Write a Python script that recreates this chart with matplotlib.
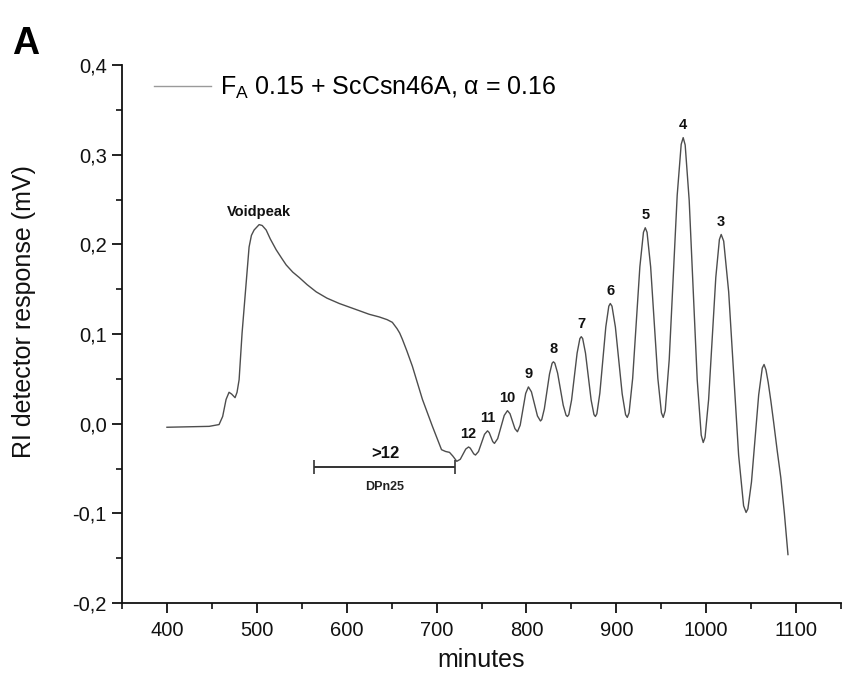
import numpy as np
import matplotlib
matplotlib.use("Agg")
import matplotlib.pyplot as plt
from matplotlib.ticker import MultipleLocator, FuncFormatter

plt.rcParams['font.family'] = ['Liberation Sans', 'DejaVu Sans']
plt.rcParams['mathtext.fontset'] = 'custom'
plt.rcParams['mathtext.rm'] = 'Liberation Sans'
plt.rcParams['mathtext.it'] = 'Liberation Sans:italic'

# ---- data ----
minutes = [
    400, 447, 458, 462, 465.8, 469.1, 472, 475.8, 478, 480.3, 483.6, 488.1,
    491.4, 494, 497, 502.6, 506, 510.4, 515, 521.5, 528, 532.7, 540, 547.2,
    556, 566.1, 578, 591.8, 603, 614, 625, 636.3, 645, 650.8, 653, 656, 659,
    662, 667, 673.1, 684.3, 695.4, 705.5, 710,
    714.4, 718, 722.5,
    726.4, 729.5, 732.5, 735.6, 737.5, 739.5, 741.4, 743.3,
    746.65, 750.0, 753.35, 756.7, 758.6, 760.55, 762.5, 764.4,
    768.0, 771.65, 775.3, 778.9, 781.7, 784.45, 787.2, 790.0,
    793.05, 796.1, 799.15, 802.2, 805.55, 808.9, 812.25, 815.6,
    817.04, 819.92, 822.8, 825.68, 828.56, 830.0,
    831.56, 834.68, 837.8, 840.92, 844.04, 845.6,
    847.14, 850.22, 853.3, 856.38, 859.46, 861.0,
    862.57, 865.71, 868.85, 871.99, 875.13, 876.7,
    878.36, 881.68, 885.0, 888.32, 891.64, 893.3,
    895.19, 898.97, 902.75, 906.53, 910.31, 912.2,
    914.2, 918.2, 922.2, 926.2, 930.2, 932.2,
    934.2, 938.2, 942.2, 946.2, 950.2, 952.2,
    954.42, 958.86, 963.3, 967.74, 972.18, 974.4,
    976.63, 981.09, 985.55, 990.01, 994.47, 996.7,
    998.7, 1002.7, 1006.7, 1010.7, 1014.7, 1016.7,
    1019.47, 1025.01, 1030.55, 1036.09, 1041.63, 1044.4,
    1046.4, 1050.4, 1054.4, 1058.4, 1062.4, 1064.4,
    1066.5, 1069, 1072, 1075, 1079, 1083, 1087, 1091,
]
response = [
    -0.004, -0.003, -0.001, 0.008, 0.027, 0.035, 0.033, 0.029, 0.035, 0.049,
    0.101, 0.157, 0.197, 0.210, 0.216, 0.222, 0.221, 0.216, 0.206, 0.194,
    0.184, 0.177, 0.169, 0.163, 0.155, 0.147, 0.140, 0.134, 0.130, 0.126,
    0.122, 0.119, 0.116, 0.113, 0.110, 0.106, 0.101, 0.094, 0.081, 0.064,
    0.027, -0.003, -0.029, -0.031, -0.032, -0.036, -0.042,
    -0.0397, -0.034, -0.0283, -0.026, -0.0273, -0.0305, -0.0337, -0.035,
    -0.0311, -0.0215, -0.0119, -0.008, -0.0100, -0.015, -0.0200, -0.022,
    -0.0167, -0.00375, 0.0092, 0.0145, 0.0111, 0.00275, -0.0056, -0.009,
    -0.0017, 0.016, 0.0337, 0.041, 0.0355, 0.022, 0.0086, 0.003,
    0.0046, 0.0166, 0.036, 0.0554, 0.0674, 0.069,
    0.0675, 0.0564, 0.0385, 0.0206, 0.0095, 0.008,
    0.0101, 0.0263, 0.0525, 0.0787, 0.0949, 0.097,
    0.0949, 0.0787, 0.0525, 0.0263, 0.0101, 0.008,
    0.0110, 0.0340, 0.071, 0.1080, 0.1310, 0.134,
    0.1310, 0.1078, 0.0705, 0.0332, 0.0100, 0.007,
    0.0121, 0.0506, 0.1128, 0.1749, 0.2134, 0.2185,
    0.2134, 0.1749, 0.1128, 0.0506, 0.0121, 0.007,
    0.0145, 0.0713, 0.163, 0.2547, 0.3115, 0.319,
    0.3108, 0.249, 0.149, 0.049, -0.0128, -0.021,
    -0.0154, 0.0268, 0.095, 0.1632, 0.2054, 0.211,
    0.2036, 0.1471, 0.056, -0.0351, -0.0916, -0.099,
    -0.0950, -0.0650, -0.0165, 0.0320, 0.0620, 0.066,
    0.060, 0.046, 0.025, 0.002, -0.030, -0.060, -0.100, -0.146,
]

peak_labels = ['Voidpeak', '12', '11', '10', '9', '8', '7', '6', '5', '4', '3']
peak_minutes = [502.6, 735.6, 756.7, 778.9, 802.2, 830.0, 861.0, 893.3, 932.2, 974.4, 1016.7]

bracket_start = 564
bracket_end = 721
bracket_level = -0.048
bracket_top_label = '>12'
bracket_bottom_label = 'DPn25'

series_label = 'F$_{\\rm A}$ 0.15 + ScCsn46A, α = 0.16'
x_ticks = [400, 500, 600, 700, 800, 900, 1000, 1100]
y_ticks = [-0.2, -0.1, 0.0, 0.1, 0.2, 0.3, 0.4]

# ---- figure ----
fig = plt.figure(figsize=(8.44, 6.83), dpi=100)
ax = fig.add_axes([122/844, 80/683, 719/844, 538/683])

line_color = '#4d4d4d'
ax.plot(minutes, response, color=line_color, lw=1.0, label=series_label)

ax.set_xlim(350, 1150)
ax.set_ylim(-0.2, 0.4)
ax.set_xticks(x_ticks)
ax.set_yticks(y_ticks)
ax.xaxis.set_minor_locator(MultipleLocator(50))
ax.yaxis.set_minor_locator(MultipleLocator(0.05))
ax.yaxis.set_major_formatter(FuncFormatter(lambda v, p: f"{v:.1f}".replace('.', ',').replace('-0,0', '0,0')))

for s in ['top', 'right']:
    ax.spines[s].set_visible(False)
for s in ['left', 'bottom']:
    ax.spines[s].set_linewidth(1.3)
    ax.spines[s].set_color('#111111')

ax.tick_params(which='major', direction='out', length=7, width=1.3, labelsize=14.5,
               colors='#111111', pad=4)
ax.tick_params(which='minor', direction='out', length=4, width=1.2, colors='#111111')
ax.tick_params(axis='x', which='major', pad=6)

ax.set_xlabel('minutes', fontsize=18, color='#111111')
ax.set_ylabel('RI detector response (mV)', fontsize=18, color='#111111')
ax.xaxis.set_label_coords(0.5, -0.083)
ax.yaxis.set_label_coords(-0.12, 0.541)

# peak labels
peak_heights = np.interp(peak_minutes, minutes, response)
for lab, xm, yh in zip(peak_labels, peak_minutes, peak_heights):
    ax.annotate(lab, (xm, yh), xytext=(0, 4), textcoords='offset points',
                ha='center', va='bottom', fontsize=10.5, fontweight='bold', color='#111111')

# bracket
bcol = '#333333'
ax.hlines(bracket_level, bracket_start, bracket_end, color=bcol, lw=1.4)
ax.vlines([bracket_start, bracket_end], bracket_level - 0.008, bracket_level + 0.008, color=bcol, lw=1.2)
mid = (bracket_start + bracket_end) / 2
ax.annotate(bracket_top_label, (mid, bracket_level), xytext=(0, 4), textcoords='offset points',
            ha='center', va='bottom', fontsize=12, fontweight='bold', color='#111111')
ax.annotate(bracket_bottom_label, (mid, bracket_level), xytext=(0, -10), textcoords='offset points',
            ha='center', va='top', fontsize=9, fontweight='bold', color='#222222')

# legend
leg = ax.legend(loc='center left', bbox_to_anchor=(0.044, 0.957), frameon=False,
                fontsize=18, handlelength=2.3, handletextpad=0.35, borderpad=0,
                borderaxespad=0)
for h in leg.get_lines():
    h.set_color('#9a9a9a')
    h.set_linewidth(1.0)

fig.text(0.014, 0.935, 'A', fontsize=27, fontweight='bold', va='center', ha='left')

fig.savefig('out.png', dpi=100)
